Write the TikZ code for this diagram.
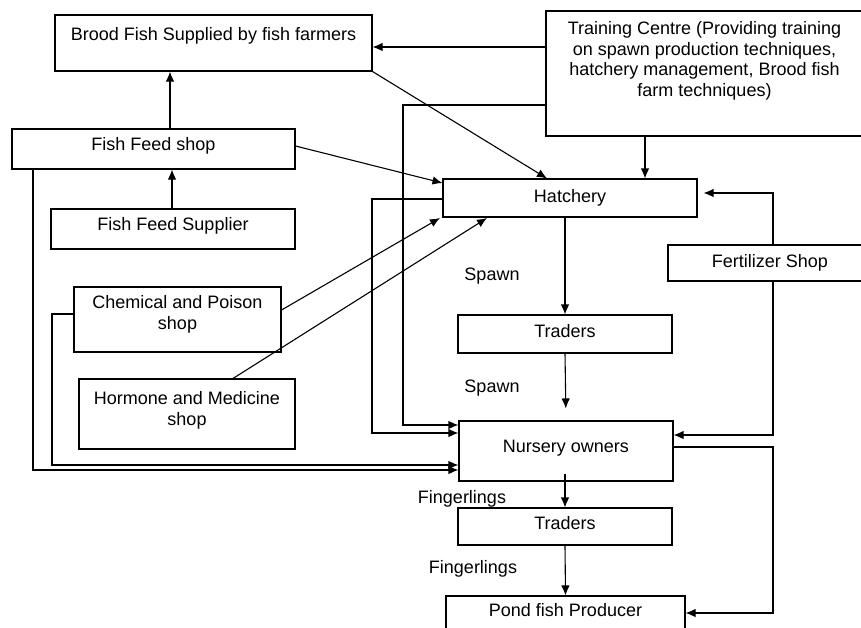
\documentclass[tikz,border=0pt]{standalone}
\usepackage{fontspec}
\setmainfont{Liberation Sans}
\usetikzlibrary{arrows.meta, positioning}

\tikzset{
  box/.style={draw, rectangle, inner sep=1pt, text height=13pt, align=center},
  flow/.style={->, line width=1.1pt}
}

\begin{document}
\begin{tikzpicture}[x=1pt, y=-1pt, line width=1.1pt,
    font=\fontsize{18}{20.5}\selectfont,
    >={Latex[length=10pt,width=8.5pt]}]
  \useasboundingbox (0,0) rectangle (861,627);

  % boxes
  \node[box, minimum width=317pt, minimum height=56pt, text depth=19pt] (brood) at (213.5,43) {Brood Fish Supplied by fish farmers};
  \node[box, minimum width=317pt, minimum height=125pt, text height=50pt, text depth=5pt] (train) at (704.5,73.5)
    {Training Centre (Providing training\\on spawn production techniques,\\hatchery management, Brood fish\\farm techniques)};
  \node[box, minimum width=283pt, minimum height=40pt, text depth=11pt] (feedshop) at (153.5,149) {Fish Feed shop};
  \node[box, minimum width=244pt, minimum height=40pt, text depth=11pt] (supplier) at (173,229) {Fish Feed Supplier};
  \node[box, minimum width=254pt, minimum height=38pt, text depth=5pt] (hatch) at (570,198) {Hatchery};
  \node[box, minimum width=204pt, minimum height=36pt, text depth=5pt] (fert) at (770,263) {Fertilizer Shop};
  \node[box, minimum width=207pt, minimum height=65pt, text height=24pt, text depth=5pt] (chem) at (177.5,319.5) {Chemical and Poison\\shop};
  \node[box, minimum width=216pt, minimum height=70pt, text height=27pt, text depth=5pt] (hormone) at (187,414) {Hormone and Medicine\\shop};
  \node[box, minimum width=214pt, minimum height=38pt, text depth=7pt] (trad1) at (565,334) {Traders};
  \node[box, minimum width=214pt, minimum height=60pt, text depth=11pt] (nursery) at (566,451) {Nursery owners};
  \node[box, minimum width=214pt, minimum height=37pt, text depth=8pt] (trad2) at (565,526.5) {Traders};
  \node[box, minimum width=239pt, minimum height=44pt, text depth=17pt] (pond) at (565.5,618) {Pond fish Producer};

  % labels
  \node[anchor=base] (spawn1) at (492,280) {Spawn};
  \node[anchor=base] (spawn2) at (492,392) {Spawn};
  \node[anchor=base] (finger1) at (462,503) {Fingerlings};
  \node[anchor=base] (finger2) at (473,573) {Fingerlings};

  % arrows
  \draw[flow] (train.west |- 0,47) -- (brood.east |- 0,47);
  \draw[flow] (train.west |- 0,105) -| (403,425) -- (nursery.west |- 0,425);
  \draw[flow] (brood.south east) -- ([xshift=-23pt]hatch.north);
  \draw[flow] (train.south -| 645,0) -- (hatch.north -| 645,0);
  \draw[flow] (feedshop.north -| 170,0) -- (brood.south -| 170,0);
  \draw[flow] (supplier.north -| 172,0) -- (feedshop.south -| 172,0);
  \draw[flow] (feedshop.east |- 0,146) -- (hatch.west |- 0,183);
  \draw[flow] (feedshop.south -| 33,0) |- (nursery.west |- 0,470);
  \draw[flow] (chem.west |- 0,314) -| (52,465) -- (nursery.west |- 0,465);
  \draw[flow] (chem.east |- 0,310) -- (440,218);
  \draw[flow] (hormone.north -| 233,0) -- (487,218);
  \draw[flow] (hatch.west |- 0,199) -| (372,433) -- (nursery.west |- 0,433);
  \draw[flow] (trad1.north |- hatch.south) -- (trad1.north);
  \draw[flow, shorten >=12pt] (trad1.south) -- (nursery.north);
  \draw[flow] (fert.north -| 773,0) |- ([xshift=6pt]hatch.east |- 0,193);
  \draw[flow] (fert.south -| 773,0) |- (nursery.east |- 0,435);
  \draw[flow] (nursery.east |- 0,447) -| (773,613) -- (pond.east |- 0,613);
  \draw[flow] ([yshift=8pt]nursery.south -| trad2.north) -- (trad2.north);
  \draw[flow] (trad2.south) -- (pond.north);
\end{tikzpicture}
\end{document}
